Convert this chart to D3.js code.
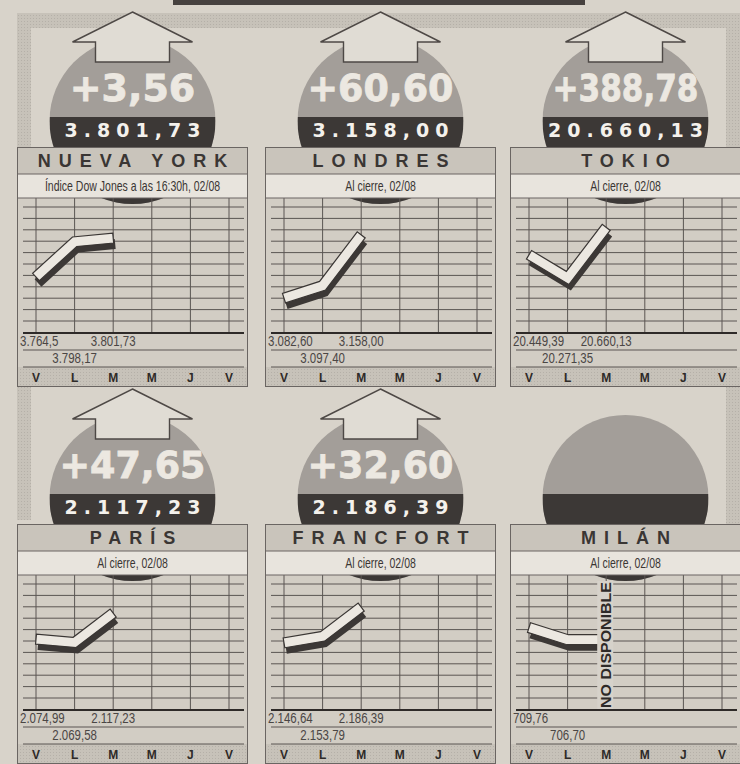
<!DOCTYPE html>
<html><head><meta charset="utf-8">
<script src="https://cdn.jsdelivr.net/npm/d3@7"></script>
<style>html,body{margin:0;padding:0;background:#d8d3ca;overflow:hidden}svg{display:block}</style>
</head><body>
<script>
// ---------- DATA ----------
const cities = ["NUEVA YORK", "LONDRES", "TOKIO", "PARÍS", "FRANCFORT", "MILÁN"];
const subtitles = ["Índice Dow Jones a las 16:30h, 02/08", "Al cierre, 02/08", "Al cierre, 02/08",
                   "Al cierre, 02/08", "Al cierre, 02/08", "Al cierre, 02/08"];
const changes = ["+3,56", "+60,60", "+388,78", "+47,65", "+32,60", ""];
const closes = ["3.801,73", "3.158,00", "20.660,13", "2.117,23", "2.186,39", ""];
const days = ["V", "L", "M", "M", "J", "V"];

const nyValues = [3764.5, 3798.17, 3801.73];
const londonValues = [3082.60, 3097.40, 3158.00];
const tokyoValues = [20449.39, 20271.35, 20660.13];
const parisValues = [2074.99, 2069.58, 2117.23];
const frankfurtValues = [2146.64, 2153.79, 2186.39];
const milanValues = [709.76, 706.70];

const nyLabels = ["3.764,5", "3.798,17", "3.801,73"];
const londonLabels = ["3.082,60", "3.097,40", "3.158,00"];
const tokyoLabels = ["20.449,39", "20.271,35", "20.660,13"];
const parisLabels = ["2.074,99", "2.069,58", "2.117,23"];
const frankfurtLabels = ["2.146,64", "2.153,79", "2.186,39"];
const milanLabels = ["709,76", "706,70"];

// y-scale domains (bottom, top of plotting area) per chart
const yDomains = [[3711, 3840], [3041, 3202], [19848, 20886], [1960, 2179], [2072, 2222], [689, 723]];
const notAvailable = [false, false, false, false, false, true];
const noDataText = "NO DISPONIBLE";

const seriesValues = [nyValues, londonValues, tokyoValues, parisValues, frankfurtValues, milanValues];
const seriesLabels = [nyLabels, londonLabels, tokyoLabels, parisLabels, frankfurtLabels, milanLabels];

// ---------- LAYOUT ----------
const W = 740, H = 764;
const colLeft = [17, 265, 510], rowTop = [147, 524], PW = 231;
const HEAD = 27, SUB = 51, GRID_B = 186, R1 = 203, R2 = 220, PB = 240;
const C_BG = "#d8d3ca", C_DARK = "#3c3836", C_LINE = "#5a5552";

const svg = d3.select("body").append("svg").attr("width", W).attr("height", H)
  .style("font-family", "'Liberation Sans', Arial, sans-serif");

function narrow(t, f) {
  const len = t.node().getComputedTextLength();
  t.attr("textLength", len * f).attr("lengthAdjust", "spacingAndGlyphs");
  return t;
}

const defs = svg.append("defs");
const pat = defs.append("pattern").attr("id", "stip").attr("width", 3).attr("height", 3)
  .attr("patternUnits", "userSpaceOnUse");
pat.append("rect").attr("width", 3).attr("height", 3).attr("fill", "#c7c2b9");
pat.append("rect").attr("width", 1).attr("height", 1).attr("fill", "#b5b0a8");

svg.append("rect").attr("width", W).attr("height", H).attr("fill", C_BG);

// top black bar and frame bands
svg.append("rect").attr("x", 173).attr("y", 0).attr("width", 412).attr("height", 5).attr("fill", "#46413f");
svg.append("rect").attr("x", 17).attr("y", 13).attr("width", 723).attr("height", 15).attr("fill", "url(#stip)");
svg.append("rect").attr("x", 17).attr("y", 13).attr("width", 14).attr("height", 507).attr("fill", "url(#stip)");
svg.append("rect").attr("x", 726).attr("y", 13).attr("width", 14).attr("height", 692).attr("fill", "url(#stip)");

function ribbon(pts, hw) {
  const n = pts.length, L = [], Rr = [];
  const dir = (a, b) => { const dx = b[0] - a[0], dy = b[1] - a[1], l = Math.hypot(dx, dy); return [dx / l, dy / l]; };
  for (let i = 0; i < n; i++) {
    let nx, ny, s = hw;
    if (i === 0 || i === n - 1) {
      const d = i === 0 ? dir(pts[0], pts[1]) : dir(pts[n - 2], pts[n - 1]);
      nx = -d[1]; ny = d[0];
    } else {
      const d1 = dir(pts[i - 1], pts[i]), d2 = dir(pts[i], pts[i + 1]);
      const n1 = [-d1[1], d1[0]], n2 = [-d2[1], d2[0]];
      let mx = n1[0] + n2[0], my = n1[1] + n2[1]; const ml = Math.hypot(mx, my);
      mx /= ml; my /= ml; const c = mx * n1[0] + my * n1[1];
      nx = mx; ny = my; s = hw / c;
    }
    L.push([pts[i][0] + nx * s, pts[i][1] + ny * s]);
    Rr.push([pts[i][0] - nx * s, pts[i][1] - ny * s]);
  }
  return d3.line()(L.concat(Rr.reverse())) + "Z";
}

cities.forEach((city, k) => {
  const col = k % 3, row = Math.floor(k / 3);
  const g = svg.append("g").attr("transform", `translate(${colLeft[col]},${rowTop[row]})`);
  const cx = PW / 2, cy = -26, r = 83;

  // panel background
  g.append("rect").attr("x", 0).attr("y", 0).attr("width", PW).attr("height", PB).attr("fill", "#d2cdc4");

  // circle
  const clipId = "clip" + k;
  defs.append("clipPath").attr("id", clipId).append("circle")
    .attr("cx", colLeft[col] + cx).attr("cy", rowTop[row] + cy).attr("r", r);
  const cg = svg.append("g").attr("clip-path", `url(#${clipId})`)
    .append("g").attr("transform", `translate(${colLeft[col]},${rowTop[row]})`);
  cg.append("rect").attr("x", cx - r).attr("y", cy - r).attr("width", 2 * r).attr("height", 2 * r).attr("fill", "#a39e99");
  cg.append("rect").attr("x", cx - r).attr("y", -30).attr("width", 2 * r).attr("height", 200).attr("fill", C_DARK);

  if (changes[k]) {
    const t = cg.append("text").attr("x", cx).attr("y", -46).attr("text-anchor", "middle")
      .attr("font-family", "'DejaVu Sans', sans-serif").attr("font-weight", "bold")
      .attr("font-size", 38).attr("fill", "#ece8e1").attr("stroke", "#ece8e1").attr("stroke-width", 0.8)
      .text(changes[k]);
    const len = t.node().getComputedTextLength();
    if (len > 146) t.attr("textLength", 146).attr("lengthAdjust", "spacingAndGlyphs");
    cg.append("text").attr("x", cx + 3).attr("y", -10).attr("text-anchor", "middle")
      .attr("font-family", "'DejaVu Sans', sans-serif").attr("font-weight", "bold")
      .attr("font-size", 19).attr("letter-spacing", 6).attr("fill", "#f4f1ec").text(closes[k]);

    // arrow
    const ag = svg.append("g").attr("transform", `translate(${colLeft[col]},${rowTop[row]})`);
    const tipY = -135, baseY = -105, shaftY = -85;
    const arrow = [[cx, tipY], [cx + 60, baseY], [cx + 37, baseY], [cx + 37, shaftY], [cx - 37, shaftY], [cx - 37, baseY], [cx - 60, baseY]];
    ag.append("path").attr("d", d3.line()(arrow) + "Z").attr("fill", "#e0dcd4")
      .attr("stroke", "#4d4845").attr("stroke-width", 1.4).attr("stroke-linejoin", "miter");
  }

  const pg = svg.append("g").attr("transform", `translate(${colLeft[col]},${rowTop[row]})`);
  // header
  pg.append("rect").attr("x", 0).attr("y", 0).attr("width", PW).attr("height", HEAD).attr("fill", "#c9c4bb");
  pg.append("rect").attr("x", 0).attr("y", HEAD).attr("width", PW).attr("height", SUB - HEAD).attr("fill", "#e8e4dd");
  pg.append("text").attr("x", cx + 4).attr("y", 20).attr("text-anchor", "middle").attr("font-weight", "bold")
    .attr("font-size", 18).attr("letter-spacing", 8).attr("fill", "#3a3634").text(city);
  narrow(pg.append("text").attr("x", cx).attr("y", 43.5).attr("text-anchor", "middle")
    .attr("font-size", 15).attr("fill", "#3a3634").text(subtitles[k]), 0.7);

  // day row bg
  pg.append("rect").attr("x", 0).attr("y", R2).attr("width", PW).attr("height", PB - R2).attr("fill", "url(#stip)");

  const x = d3.scalePoint().domain(d3.range(days.length)).range([19, 212]);
  const y = d3.scaleLinear().domain(yDomains[k]).range([GRID_B, SUB]);

  // horizontal grid
  const hLines = d3.range(11).map(i => SUB + 9 + i * 11.4);
  pg.selectAll(".hl").data(hLines).join("line").attr("x1", 6).attr("x2", PW - 4)
    .attr("y1", d => d).attr("y2", d => d).attr("stroke", C_LINE).attr("stroke-width", 1);
  // vertical grid
  pg.selectAll(".vl").data(d3.range(days.length)).join("line")
    .attr("x1", d => x(d)).attr("x2", d => x(d)).attr("y1", SUB).attr("y2", GRID_B)
    .attr("stroke", C_LINE).attr("stroke-width", 1);
  // baseline and row lines
  pg.append("line").attr("x1", 6).attr("x2", PW - 4).attr("y1", GRID_B).attr("y2", GRID_B).attr("stroke", "#2e2a28").attr("stroke-width", 2.2);
  [R1, R2].forEach(yy => pg.append("line").attr("x1", 6).attr("x2", PW - 4).attr("y1", yy).attr("y2", yy).attr("stroke", C_LINE).attr("stroke-width", 1));

  // section lines
  [HEAD, SUB].forEach(yy => pg.append("line").attr("x1", 0).attr("x2", PW).attr("y1", yy).attr("y2", yy).attr("stroke", "#6a6562").attr("stroke-width", 1));
  pg.append("rect").attr("x", 0.5).attr("y", 0.5).attr("width", PW - 1).attr("height", PB - 1)
    .attr("fill", "none").attr("stroke", "#6a6562").attr("stroke-width", 1);

  // ribbon line
  const vals = seriesValues[k];
  let pts = vals.map((v, i) => [x(i), y(v)]);
  if (notAvailable[k]) pts.push([x(vals.length), y(vals[vals.length - 1])]);
  const rp = ribbon(pts, 5);
  pg.append("path").attr("d", rp).attr("transform", "translate(2,6)").attr("fill", C_DARK);
  pg.append("path").attr("d", rp).attr("fill", "#ece8e1").attr("stroke", "#3a3634").attr("stroke-width", 1.2).attr("stroke-linejoin", "miter");

  if (notAvailable[k]) {
    const nx = x(vals.length);
    pg.append("rect").attr("x", nx - 9).attr("y", SUB + 6).attr("width", 16).attr("height", 128).attr("fill", "#d6d2ca");
    pg.append("text").attr("transform", `translate(${nx + 5},${SUB + 70}) rotate(-90)`)
      .attr("text-anchor", "middle").attr("font-weight", "bold")
      .attr("font-size", 14).attr("fill", "#2e2a28")
      .attr("textLength", 126).attr("lengthAdjust", "spacingAndGlyphs").text(noDataText);
  }

  // value labels
  seriesLabels[k].forEach((lab, i) => {
    narrow(pg.append("text").attr("x", i === 0 ? 3 : x(i)).attr("y", i % 2 === 0 ? 199 : 216)
      .attr("text-anchor", i === 0 ? "start" : "middle")
      .attr("font-size", 14).attr("fill", "#4a4644").text(lab), 0.82);
  });
  // day letters
  pg.selectAll(".day").data(days).join("text").attr("x", (d, i) => x(i)).attr("y", 235)
    .attr("text-anchor", "middle").attr("font-weight", "bold").attr("font-size", 12)
    .attr("fill", "#2e2a28").text(d => d);
});
</script>
</body></html>
